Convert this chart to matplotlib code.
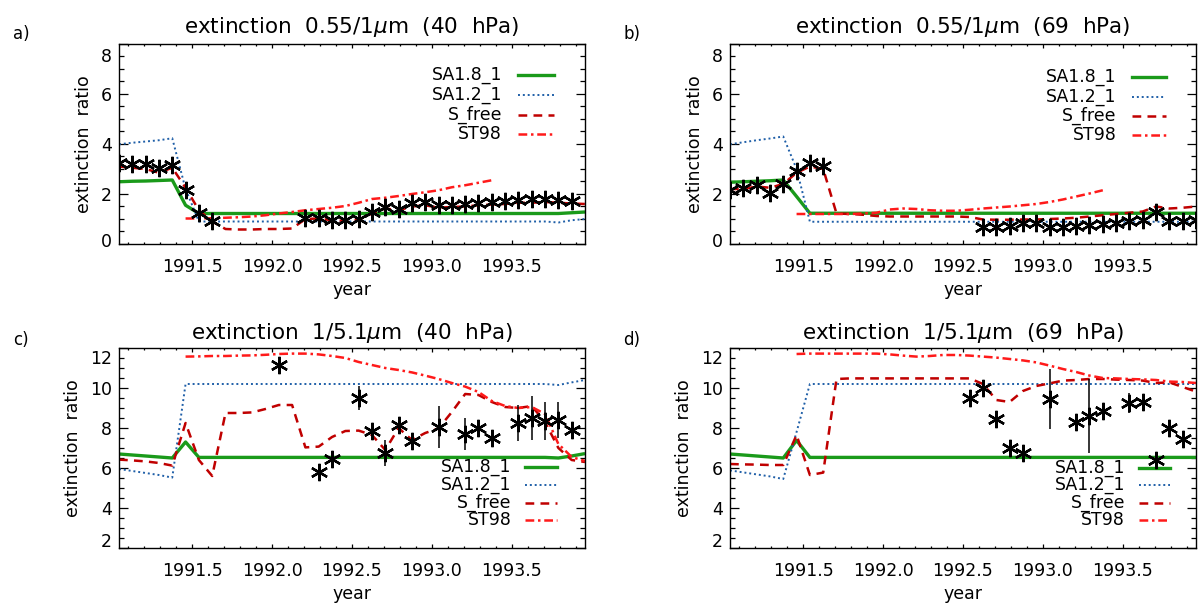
import numpy as np
import matplotlib
matplotlib.use("Agg")
import matplotlib.pyplot as plt
from matplotlib.ticker import MultipleLocator, FixedLocator
from matplotlib.lines import Line2D
from matplotlib.transforms import ScaledTranslation

nan = np.nan

# monthly mid-points, Jan 1991 .. Dec 1993
months = np.arange(1, 37)
years = 1991 + (months - 0.5) / 12.0

# ---------------- panel a: extinction 0.55/1um at 40 hPa ----------------
obs_a = [3.25, 3.20, 3.20, 3.05, 3.16, 2.16, 1.25, 0.92,
         nan, nan, nan, nan, nan, nan,
         1.05, 1.05, 0.96, 0.96, 0.99, 1.29, 1.49, 1.39, 1.63, 1.69, 1.56,
         1.56, 1.59, 1.65, 1.67, 1.73, 1.77, 1.80, 1.80, 1.77, 1.71, nan]
sa18_a = [2.49, 2.51, 2.52, 2.54, 2.56, 1.55] + [1.22] * 28 + [1.25, 1.28]
sa12_a = [3.99, 4.05, 4.10, 4.15, 4.23, 2.20] + [0.90] * 27 + [0.86, 0.95, 1.00]
sfree_a = [3.10, 3.05, 3.00, 2.85, 3.05, 2.25, 1.35, 0.90, 0.60, 0.58, 0.58, 0.60,
           0.60, 0.62, 1.00, 1.02, 0.95, 0.93, 0.97, 1.22, 1.42, 1.35, 1.50, 1.55,
           1.45, 1.48, 1.50, 1.55, 1.58, 1.60, 1.65, 1.65, 1.68, 1.65, 1.62, 1.60]
st98_a = [nan] * 5 + [1.02, 1.02, 1.03, 1.05, 1.07, 1.10, 1.15, 1.22, 1.28, 1.35,
                      1.40, 1.45, 1.52, 1.65, 1.80, 1.85, 1.92, 2.00, 2.07, 2.15,
                      2.27, 2.35, 2.45, 2.55] + [nan] * 7

# ---------------- panel b: extinction 0.55/1um at 69 hPa ----------------
obs_b = [2.16, 2.23, 2.36, 2.05, 2.40, 2.92, 3.23, 3.13] + [nan] * 11 + \
        [0.69, 0.69, 0.72, 0.83, 0.83, 0.67, 0.67, 0.72, 0.76, 0.80, 0.83,
         0.93, 0.96, 1.29, 0.93, 0.93, 0.96]
sa18_b = [2.47, 2.49, 2.51, 2.53, 2.56, 1.90] + [1.23] * 30
sa12_b = [3.99, 4.07, 4.15, 4.22, 4.30, 3.00] + [0.89] * 30
sfree_b = [2.20, 2.20, 2.30, 2.25, 2.40, 2.85, 3.10, 3.00, 1.22, 1.20, 1.17, 1.12,
           1.10, 1.10, 1.10, 1.10, 1.10, 1.10, 1.08, 0.98, 0.97, 0.97, 0.98, 0.98,
           1.00, 1.02, 1.05, 1.10, 1.15, 1.20, 1.25, 1.30, 1.50, 1.42, 1.45, 1.50]
st98_b = [nan] * 5 + [1.20, 1.20, 1.20, 1.20, 1.20, 1.22, 1.25, 1.38, 1.42, 1.40,
                      1.35, 1.33, 1.33, 1.37, 1.42, 1.46, 1.50, 1.55, 1.60, 1.68,
                      1.78, 1.90, 2.02, 2.15] + [nan] * 7

# ---------------- panel c: extinction 1/5.1um at 40 hPa ----------------
obs_c = [nan] * 12 + [11.15, nan, nan, 5.80, 6.45, nan, 9.50, 7.87, 6.75, 8.17,
                      7.37, nan, 8.05, nan, 7.72, 7.98, 7.52, nan, 8.25, 8.50,
                      8.35, 8.38, 7.90, nan]
err_c = [nan] * 12 + [0.15, nan, nan, 0.15, 0.15, nan, 0.60, 0.30, 0.65, 0.40,
                      0.20, nan, 1.05, nan, 0.80, 0.30, 0.20, nan, 0.90, 1.10,
                      0.95, 0.90, 0.20, nan]
sa18_c = [6.70, 6.65, 6.60, 6.55, 6.50, 7.30] + [6.53] * 27 + [6.50, 6.60, 6.72]
sa12_c = [5.95, 5.85, 5.75, 5.65, 5.52, 10.20] + [10.20] * 27 + [10.15, 10.28, 10.40]
sfree_c = [6.42, 6.38, 6.33, 6.25, 6.12, 8.25, 6.40, 5.60, 8.75, 8.75, 8.78, 8.95,
           9.15, 9.15, 7.03, 7.07, 7.55, 7.85, 7.87, 7.65, 6.90, 8.00, 7.40, 7.75,
           7.98, 8.80, 9.70, 9.65, 9.30, 9.05, 9.00, 9.10, 8.30, 7.00, 6.40, 6.30]
st98_c = [nan] * 5 + [11.57, 11.58, 11.60, 11.60, 11.62, 11.63, 11.66, 11.70,
                      11.72, 11.72, 11.68, 11.60, 11.50, 11.30, 11.15, 11.00,
                      10.90, 10.78, 10.62, 10.45, 10.25, 10.07, 9.80, 9.35,
                      9.10, 9.00, 9.05, 8.70, 7.20, 6.55, 6.35]

# ---------------- panel d: extinction 1/5.1um at 69 hPa ----------------
obs_d = [nan] * 18 + [9.50, 10.00, 8.43, 7.00, 6.75, nan, 9.43, nan, 8.30, 8.60,
                      8.87, nan, 9.25, 9.30, 6.42, 8.00, 7.45, nan]
err_d = [nan] * 18 + [0.15, 0.15, 0.30, 0.15, 0.15, nan, 1.50, nan, 0.15, 1.85,
                      0.15, nan, 0.50, 0.15, 0.15, 0.15, 0.15, nan]
sa18_d = [6.70, 6.65, 6.60, 6.55, 6.50, 7.38] + [6.53] * 30
sa12_d = [5.88, 5.78, 5.68, 5.58, 5.45, 7.80] + [10.20] * 30
sfree_d = [6.20, 6.18, 6.17, 6.15, 6.15, 7.65, 5.65, 5.77, 10.45] + [10.48] * 10 + \
          [10.20, 9.40, 9.30, 9.85, 10.10, 10.23, 10.37, 10.40, 10.45, 10.45, 10.42,
           10.40, 10.37, 10.25, 10.28, 10.05, 9.82]
st98_d = [nan] * 5 + [11.70, 11.72, 11.72, 11.72, 11.72, 11.72, 11.72, 11.68,
                      11.62, 11.57, 11.60, 11.65, 11.65, 11.62, 11.57, 11.52,
                      11.45, 11.38, 11.28, 11.12, 10.95, 10.80, 10.62, 10.50,
                      10.48, 10.45, 10.43, 10.40, 10.32, 10.30, 10.25]

model_names = ["SA1.8_1", "SA1.2_1", "S_free", "ST98"]
xtick_vals = [1991.5, 1992.0, 1992.5, 1993.0, 1993.5]
xtick_labels = ["1991.5", "1992.0", "1992.5", "1993.0", "1993.5"]

panels = [
    dict(tag="a)", title="extinction  0.55/1$\\mu$m  (40  hPa)",
         obs=obs_a, err=None, models=[sa18_a, sa12_a, sfree_a, st98_a],
         ylim=(0, 8), yticks=[0, 2, 4, 6, 8], yshift=(4, -11)),
    dict(tag="b)", title="extinction  0.55/1$\\mu$m  (69  hPa)",
         obs=obs_b, err=None, models=[sa18_b, sa12_b, sfree_b, st98_b],
         ylim=(0, 8), yticks=[0, 2, 4, 6, 8], yshift=(4, -11)),
    dict(tag="c)", title="extinction  1/5.1$\\mu$m  (40  hPa)",
         obs=obs_c, err=err_c, models=[sa18_c, sa12_c, sfree_c, st98_c],
         ylim=(2, 12), yticks=[2, 4, 6, 8, 10, 12], yshift=(8, -9)),
    dict(tag="d)", title="extinction  1/5.1$\\mu$m  (69  hPa)",
         obs=obs_d, err=err_d, models=[sa18_d, sa12_d, sfree_d, st98_d],
         ylim=(2, 12), yticks=[2, 4, 6, 8, 10, 12], yshift=(8, -9)),
]

styles = [
    dict(color="#1a9a1a", lw=2.4, ls="-"),
    dict(color="#1f5fa8", lw=1.4, ls=(0, (1, 1.5))),
    dict(color="#c00000", lw=1.8, ls=(0, (3.5, 2.5))),
    dict(color="#ff1a1a", lw=1.8, ls=(0, (3.5, 1.5, 1, 1.5))),
]

plt.rcParams["font.family"] = ["DejaVu Sans"]
plt.rcParams["mathtext.fontset"] = "dejavusans"

W, H = 1198, 603
fig = plt.figure(figsize=(W / 100, H / 100), dpi=100)

# axes boxes in pixels: (left, top, width, height)
boxes = [(119, 44, 466, 200), (730, 44, 466, 200),
         (119, 348, 466, 200), (730, 348, 466, 200)]
# legend placement in axes fractions
leg_cfg = [dict(tx=0.822, l0=0.857, l1=0.934, rows=[0.845, 0.745, 0.645, 0.550]),
           dict(tx=0.830, l0=0.862, l1=0.936, rows=[0.836, 0.737, 0.640, 0.545]),
           dict(tx=0.843, l0=0.871, l1=0.940, rows=[0.405, 0.315, 0.225, 0.140]),
           dict(tx=0.848, l0=0.878, l1=0.944, rows=[0.400, 0.315, 0.227, 0.140])]
title_y = [27, 27, 333, 333]
tag_xy = [(21, 34), (632, 34), (21, 340), (632, 340)]

for p, (l, t, w, h), lc, ty, (tgx, tgy) in zip(panels, boxes, leg_cfg, title_y, tag_xy):
    ax = fig.add_axes([l / W, 1 - (t + h) / H, w / W, h / H])
    for series, st in zip(p["models"], styles):
        ax.plot(years, series, color=st["color"], lw=st["lw"], ls=st["ls"],
                zorder=2, solid_capstyle="butt", dash_capstyle="butt")
    obs = np.array(p["obs"], dtype=float)
    if p["err"] is not None:
        err = np.array(p["err"], dtype=float)
        ax.vlines(years, obs - err, obs + err, color="black", lw=1.1, zorder=3)
    ax.plot(years, obs, ls="none", marker=(6, 2, 0), ms=12.5, mew=1.7,
            color="black", zorder=4)

    ax.set_xlim(years[0], years[-1])
    ax.set_ylim(*p["ylim"])
    ax.xaxis.set_major_locator(FixedLocator(xtick_vals))
    ax.set_xticklabels(xtick_labels)
    ax.xaxis.set_minor_locator(MultipleLocator(0.1))
    ax.yaxis.set_major_locator(FixedLocator(p["yticks"]))
    ax.yaxis.set_minor_locator(MultipleLocator(0.5))
    ax.tick_params(which="both", direction="in", top=True, right=True,
                   labelsize=12.5, color="black", width=0.9)
    ax.xaxis.set_tick_params(which="major", length=3.2, pad=10)
    ax.xaxis.set_tick_params(which="minor", length=1.6)
    ax.yaxis.set_tick_params(which="major", length=6.5, pad=5)
    ax.yaxis.set_tick_params(which="minor", length=3.3)
    # end labels of the y axis sit slightly inside the box
    fig.canvas.draw()
    ylabels = ax.get_yticklabels()
    lo, hi = p["yshift"]
    ylabels[0].set_transform(ylabels[0].get_transform() +
                             ScaledTranslation(0, lo / 100, fig.dpi_scale_trans))
    ylabels[-1].set_transform(ylabels[-1].get_transform() +
                              ScaledTranslation(0, hi / 100, fig.dpi_scale_trans))
    for sp in ax.spines.values():
        sp.set_linewidth(1.0)
    ax.set_xlabel("year", fontsize=12.5, labelpad=4)
    ax.set_ylabel("extinction  ratio", fontsize=12.5, labelpad=6)

    # legend entries: right-aligned names with a short line sample
    for name, st, ry in zip(model_names, styles, lc["rows"]):
        ax.text(lc["tx"], ry, name, transform=ax.transAxes, ha="right",
                va="center", fontsize=12.5)
        ax.add_line(Line2D([lc["l0"], lc["l1"]], [ry, ry], transform=ax.transAxes,
                           color=st["color"], lw=st["lw"], ls=st["ls"]))

    fig.text((l + w / 2) / W, 1 - ty / H, p["title"], ha="center", va="center",
             fontsize=15.5)
    fig.text(tgx / W, 1 - tgy / H, p["tag"], ha="center", va="center", fontsize=12)

fig.savefig("out.png", dpi=100)
